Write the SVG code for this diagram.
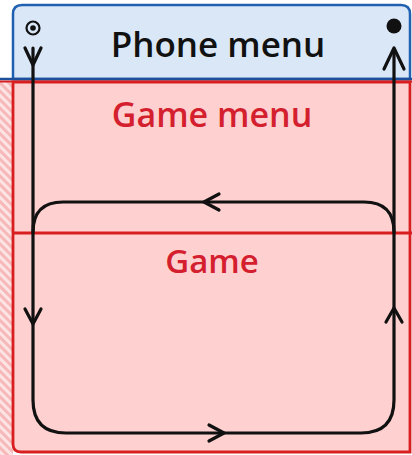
<svg xmlns="http://www.w3.org/2000/svg" width="412" height="455" viewBox="0 0 412 455">
<style>
.t{font-family:"Open Sans","Liberation Sans",sans-serif;text-anchor:middle;font-weight:600}
.red{fill:#d4202e}
.conn{fill:none;stroke:#111;stroke-width:3.2;stroke-linecap:round}
.arr{fill:none;stroke:#111;stroke-width:3.2;stroke-linecap:round;stroke-linejoin:round}
</style>
<defs>
<pattern id="hatch" width="6" height="6" patternUnits="userSpaceOnUse" patternTransform="rotate(-45)">
<rect width="6" height="6" fill="#fde4e4"/>
<rect width="3" height="6" fill="#f6b8b8"/>
</pattern>
</defs>
<rect x="0" y="0" width="412" height="455" fill="#ffffff"/>
<g id="hatch-strip"><rect x="0" y="82" width="13" height="373" fill="url(#hatch)"/></g>
<g id="game-menu">
<path d="M13,82 H410 V452 H21 Q13,452 13,444 Z" fill="#ffd0d0" stroke="#d81e1e" stroke-width="2.8"/>
<text class="t red" x="212" y="127" font-size="34">Game menu</text>
</g>
<g id="game">
<line x1="13" y1="233" x2="412" y2="233" stroke="#d81e1e" stroke-width="2.8"/>
<text class="t red" x="212" y="273" font-size="33">Game</text>
</g>
<g id="phone-menu">
<path d="M13,79 V14 Q13,5 22,5 H401 Q410,5 410,14 V79 Z" fill="#d9e7f7" stroke="#2060b0" stroke-width="2.5"/>
<line x1="0" y1="79" x2="412" y2="79" stroke="#1e4f9a" stroke-width="2.5"/>
<line x1="0" y1="81.5" x2="412" y2="81.5" stroke="#d81e1e" stroke-width="2"/>
<text class="t" x="218" y="57" font-size="35" fill="#111">Phone menu</text>
</g>
<g id="initial-state">
<circle cx="33" cy="28" r="6.5" fill="none" stroke="#111" stroke-width="2.2"/>
<circle cx="33" cy="28" r="2.8" fill="#111"/>
</g>
<g id="final-state"><circle cx="394" cy="26" r="7.5" fill="#111"/></g>
<g id="connectors">
<path class="conn" d="M33,48 V400 Q33,433 66,433 H361 Q394,433 394,400 V50"/>
<path class="conn" d="M394,232 Q394,202 364,202 H63 Q33,202 33,232"/>
<path class="arr" d="M25,48 L33,65 L41,48"/>
<path class="arr" d="M25,309 L33,324 L41,309"/>
<path class="arr" d="M209,425 L224,433 L209,441"/>
<path class="arr" d="M219,194 L204,202 L219,210"/>
<path class="arr" d="M386,322 L394,308 L402,322"/>
<path class="arr" d="M384,69 L394,48 L404,69"/>
</g>
</svg>
